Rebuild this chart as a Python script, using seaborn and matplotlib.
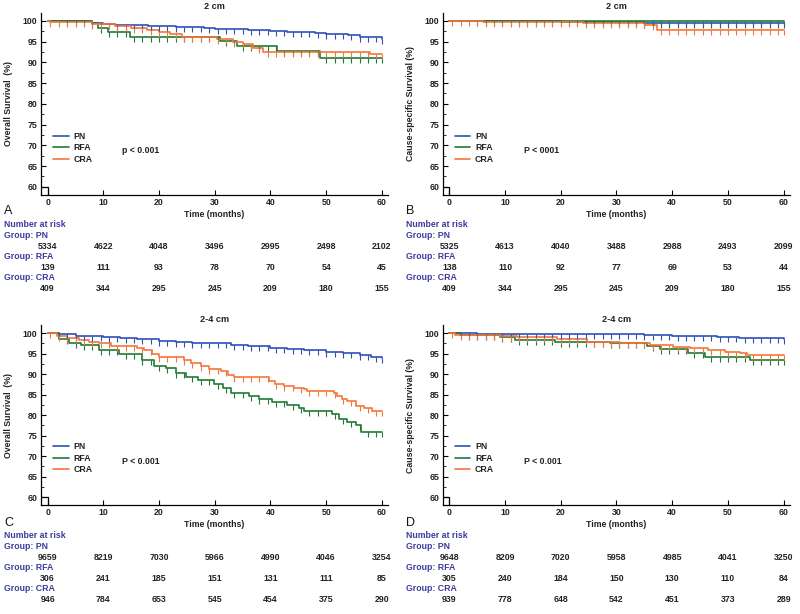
import numpy as np
import pandas as pd
import matplotlib
matplotlib.use("Agg")
import matplotlib.pyplot as plt
import seaborn as sns
from matplotlib.lines import Line2D
from matplotlib.transforms import blended_transform_factory

# ---------------- data ----------------
GROUPS = ["PN", "RFA", "CRA"]
COLORS = {"PN": "#2f4fb8", "RFA": "#1f7a35", "CRA": "#f4763a"}

# Panel A: 2 cm, overall survival
A_PN_T = [0, 8, 10, 12, 15, 18, 20, 23, 26, 28, 30, 33, 36, 38, 40, 43, 46, 48, 50, 52, 54, 56, 58, 60]
A_PN_S = [100, 99.5, 99.3, 99.1, 99.0, 98.8, 98.7, 98.5, 98.4, 98.2, 98.1, 98.0, 97.8, 97.7, 97.5, 97.3, 97.2, 97.0, 96.9, 96.7, 96.5, 96.2, 96.0, 95.7]
A_RFA_T = [0, 7.9, 9.1, 10.9, 14.8, 30.9, 34.0, 41.1, 48.9, 60]
A_RFA_S = [100, 99.4, 98.2, 97.3, 96.2, 95.2, 94.0, 92.8, 91.0, 91.0]
A_CRA_T = [0, 0.5, 8, 12, 15, 17.8, 19.9, 22.0, 24.1, 30.4, 33.3, 35.1, 36.9, 38.7, 57.9, 60]
A_CRA_S = [100, 99.6, 99.2, 98.8, 98.3, 97.8, 97.3, 96.7, 96.1, 95.5, 94.8, 94.3, 93.5, 92.6, 92.0, 92.0]

# Panel B: 2 cm, cause-specific survival
B_PN_T = [0, 20, 35, 60]
B_PN_S = [100, 99.8, 99.4, 99.4]
B_RFA_T = [0, 60]
B_RFA_S = [100, 100]
B_CRA_T = [0, 6, 24, 35.2, 37.3, 60]
B_CRA_S = [100, 99.8, 99.5, 98.9, 97.9, 97.9]

# Panel C: 2-4 cm, overall survival
C_PN_T = [0, 2, 5, 8, 10, 13, 16, 20, 23, 26, 30, 33, 36, 40, 43, 46, 50, 53, 56, 58, 60]
C_PN_S = [100, 99.7, 99.4, 99.2, 99.1, 98.8, 98.5, 98.1, 97.9, 97.7, 97.5, 97.2, 96.9, 96.5, 96.2, 95.9, 95.5, 95.1, 94.7, 94.3, 93.9]
C_RFA_T = [0, 2.0, 3.8, 5.9, 9.2, 12.8, 17.0, 19.1, 21.2, 23.0, 24.8, 26.9, 29.9, 31.4, 32.9, 36.1, 37.9, 40.3, 43.0, 45.1, 46.0, 51.1, 52.3, 53.8, 55.3, 56.2, 60]
C_RFA_S = [100, 98.5, 97.7, 97.1, 95.8, 95.0, 93.4, 92.0, 91.6, 90.2, 89.3, 88.5, 87.6, 86.7, 85.5, 84.7, 83.9, 83.1, 82.5, 81.7, 81.1, 80.2, 79.0, 78.3, 77.5, 75.8, 75.8]
C_CRA_T = [0, 1.7, 3.5, 5.6, 7.4, 9.2, 11.3, 16.1, 17.3, 18.8, 20.0, 24.5, 25.7, 27.5, 29.0, 31.1, 32.3, 33.4, 39.7, 40.9, 42.4, 44.2, 46.0, 46.6, 51.4, 52.0, 52.9, 53.8, 55.3, 56.8, 58.3, 60]
C_CRA_S = [100, 99.3, 98.8, 98.3, 97.9, 97.5, 96.9, 96.3, 95.9, 95.0, 94.2, 93.4, 92.8, 92.0, 91.2, 90.7, 89.8, 89.3, 88.4, 87.7, 87.2, 86.7, 86.3, 85.9, 85.4, 84.7, 83.9, 83.5, 82.3, 81.7, 81.1, 81.1]

# Panel D: 2-4 cm, cause-specific survival
D_PN_T = [0, 5, 15, 25, 35, 40, 45, 48, 52, 56, 60]
D_PN_S = [100, 99.9, 99.8, 99.7, 99.5, 99.4, 99.2, 99.0, 98.9, 98.8, 98.7]
D_RFA_T = [0, 1.9, 9.1, 11.8, 19.0, 28.9, 35.4, 37.8, 42.9, 45.9, 54.0, 60]
D_RFA_S = [100, 99.5, 99.1, 98.3, 97.9, 97.5, 96.9, 96.1, 95.1, 94.2, 93.4, 93.4]
D_CRA_T = [0, 1.0, 9.1, 12.1, 19.3, 24.7, 30.6, 36.0, 40.2, 43.2, 46.5, 49.5, 52.2, 53.4, 60]
D_CRA_S = [100, 99.6, 99.4, 99.1, 98.5, 97.9, 97.5, 97.2, 96.7, 96.3, 95.9, 95.5, 95.1, 94.6, 94.6]

# censoring tick times (every ~1.5 months)
CENSOR_T = [0.5, 2, 3.5, 5, 6.5, 8, 9.5, 11, 12.5, 14, 15.5, 17, 18.5, 20, 21.5, 23, 24.5, 26,
            27.5, 29, 30.5, 32, 33.5, 35, 36.5, 38, 39.5, 41, 42.5, 44, 45.5, 47, 48.5, 50,
            51.5, 53, 54.5, 56, 57.5, 59, 60]

# number at risk
RISK_TIMES = [0, 10, 20, 30, 40, 50, 60]
A_RISK = {"PN": [5334, 4622, 4048, 3496, 2995, 2498, 2102],
          "RFA": [139, 111, 93, 78, 70, 54, 45],
          "CRA": [409, 344, 295, 245, 209, 180, 155]}
B_RISK = {"PN": [5325, 4613, 4040, 3488, 2988, 2493, 2099],
          "RFA": [138, 110, 92, 77, 69, 53, 44],
          "CRA": [409, 344, 295, 245, 209, 180, 155]}
C_RISK = {"PN": [9659, 8219, 7030, 5966, 4990, 4046, 3254],
          "RFA": [306, 241, 185, 151, 131, 111, 85],
          "CRA": [946, 784, 653, 545, 454, 375, 290]}
D_RISK = {"PN": [9648, 8209, 7020, 5958, 4985, 4041, 3250],
          "RFA": [305, 240, 184, 150, 130, 110, 84],
          "CRA": [939, 778, 648, 542, 451, 373, 289]}

# censor start per curve
CENSOR_START = {
    "A": {"PN": 3.0, "RFA": 9.0, "CRA": 0.4},
    "B": {"PN": 30.0, "RFA": 5.0, "CRA": 0.4},
    "C": {"PN": 1.0, "RFA": 2.5, "CRA": 0.4},
    "D": {"PN": 1.0, "RFA": 2.5, "CRA": 0.4},
}

PANELS = [
    dict(key="A", title="2 cm", ylabel="Overall Survival  (%)", p="p < 0.001",
         curves={"PN": (A_PN_T, A_PN_S), "RFA": (A_RFA_T, A_RFA_S), "CRA": (A_CRA_T, A_CRA_S)}, risk=A_RISK),
    dict(key="B", title="2 cm", ylabel="Cause-specific Survival (%)", p="P < 0001",
         curves={"PN": (B_PN_T, B_PN_S), "RFA": (B_RFA_T, B_RFA_S), "CRA": (B_CRA_T, B_CRA_S)}, risk=B_RISK),
    dict(key="C", title="2-4 cm", ylabel="Overall Survival  (%)", p="P < 0.001",
         curves={"PN": (C_PN_T, C_PN_S), "RFA": (C_RFA_T, C_RFA_S), "CRA": (C_CRA_T, C_CRA_S)}, risk=C_RISK),
    dict(key="D", title="2-4 cm", ylabel="Cause-specific Survival (%)", p="P < 0.001",
         curves={"PN": (D_PN_T, D_PN_S), "RFA": (D_RFA_T, D_RFA_S), "CRA": (D_CRA_T, D_CRA_S)}, risk=D_RISK),
]

# ---------------- style ----------------
sns.set_style("ticks")
plt.rcParams["font.family"] = ["Liberation Sans", "DejaVu Sans"]
plt.rcParams["font.weight"] = "bold"

W, H = 800, 614
fig = plt.figure(figsize=(W / 100, H / 100), dpi=100)

FS = 6.3
LABEL_BLUE = "#3c3c9c"
TEXT_DARK = "#222222"

# axes pixel boxes: left, right, top, bottom
BOXES = {"A": (41, 388, 12.9, 194.7), "B": (442.7, 789.7, 12.9, 194.7),
         "C": (41, 388, 325.4, 505.0), "D": (442.7, 789.7, 325.4, 505.0)}
TABLE_TOP = {"A": 180.0, "B": 180.0, "C": 491.0, "D": 491.0}
LEFT_TEXT_X = {"A": 4, "B": 406, "C": 4, "D": 406}

XMIN, XMAX = -1.2, 61.1
YMIN, YMAX = 58.1, 101.9

for pn in PANELS:
    k = pn["key"]
    l, r, t, b = BOXES[k]
    ax = fig.add_axes([l / W, 1 - b / H, (r - l) / W, (b - t) / H])

    rows = []
    for g in GROUPS:
        ts, ss = pn["curves"][g]
        for tt, s in zip(ts, ss):
            rows.append({"Time": tt, "Survival": s, "Group": g})
    df = pd.DataFrame(rows)
    sns.lineplot(data=df, x="Time", y="Survival", hue="Group", hue_order=GROUPS,
                 palette=COLORS, estimator=None, sort=False, drawstyle="steps-post",
                 linewidth=1.2, legend=False, ax=ax)

    # censor marks
    for g in GROUPS:
        ts, ss = pn["curves"][g]
        ts = np.asarray(ts); ss = np.asarray(ss)
        ct = np.array([c for c in CENSOR_T if c >= CENSOR_START[k][g]])
        idx = np.searchsorted(ts, ct, side="right") - 1
        ax.plot(ct, ss[idx], linestyle="none", marker=3, markersize=3.6,
                markeredgewidth=0.8, color=COLORS[g])

    # origin marker
    ax.plot([XMIN, 0, 0], [60, 60, YMIN], color="black", lw=0.9, clip_on=False)

    ax.set_xlim(XMIN, XMAX)
    ax.set_ylim(YMIN, YMAX)
    ax.set_xticks(RISK_TIMES)
    ax.set_yticks([60, 65, 70, 75, 80, 85, 90, 95, 100])
    ax.set_yticks([62.5, 67.5, 72.5, 77.5, 82.5, 87.5, 92.5, 97.5], minor=True)
    ax.tick_params(axis="both", which="major", direction="in", length=3.5, width=0.8,
                   labelsize=FS, pad=2.5, colors="black")
    ax.tick_params(axis="y", which="minor", direction="in", length=2, width=0.7)
    for lab in ax.get_xticklabels() + ax.get_yticklabels():
        lab.set_fontweight("bold")
        lab.set_color(TEXT_DARK)
    for sp in ["top", "right"]:
        ax.spines[sp].set_visible(False)
    for sp in ["left", "bottom"]:
        ax.spines[sp].set_linewidth(0.9)
        ax.spines[sp].set_color("black")

    ax.set_title(pn["title"], fontsize=FS + 0.3, fontweight="bold", pad=2.5, color=TEXT_DARK)
    ax.set_xlabel("Time (months)", fontsize=FS, fontweight="bold", labelpad=2, color=TEXT_DARK)
    ax.set_ylabel(pn["ylabel"], fontsize=FS, fontweight="bold", color=TEXT_DARK)
    ax.yaxis.set_label_coords((LEFT_TEXT_X[k] + 9 - l) / (r - l), 0.5)

    handles = [Line2D([0], [0], color=COLORS[g], lw=1.2) for g in GROUPS]
    leg = ax.legend(handles, GROUPS, loc="upper left",
                    bbox_to_anchor=(12.3 / (r - l), 62.7 / (b - t)),
                    frameon=False, prop={"size": FS, "weight": "bold"}, handlelength=1.75,
                    handletextpad=0.55, labelspacing=0.28, borderpad=0, borderaxespad=0)
    for txt in leg.get_texts():
        txt.set_color(TEXT_DARK)

    ax.text(0.233, 0.243, pn["p"], transform=ax.transAxes, fontsize=FS, fontweight="bold",
            ha="left", va="center", color=TEXT_DARK)

    # panel letter and risk table
    y0 = TABLE_TOP[k]
    fig.text(LEFT_TEXT_X[k] / W, 1 - (y0 + 31.5) / H, k, fontsize=9, fontweight="normal",
             ha="left", va="center", color="#111111")
    fig.text(LEFT_TEXT_X[k] / W, 1 - (y0 + 44.3) / H, "Number at risk", fontsize=FS,
             fontweight="bold", ha="left", va="center", color=LABEL_BLUE)
    trans = blended_transform_factory(ax.transData, fig.transFigure)
    for i, g in enumerate(GROUPS):
        yl = y0 + 55.5 + i * 21.0
        fig.text(LEFT_TEXT_X[k] / W, 1 - yl / H, f"Group: {g}", fontsize=FS,
                 fontweight="bold", ha="left", va="center", color=LABEL_BLUE)
        for tt, n in zip(RISK_TIMES, pn["risk"][g]):
            ax.text(tt, 1 - (yl + 10.7) / H, str(n), transform=trans, fontsize=FS,
                    fontweight="bold", ha="center", va="center", color=TEXT_DARK)

fig.savefig("out.png", dpi=100, facecolor="white")
